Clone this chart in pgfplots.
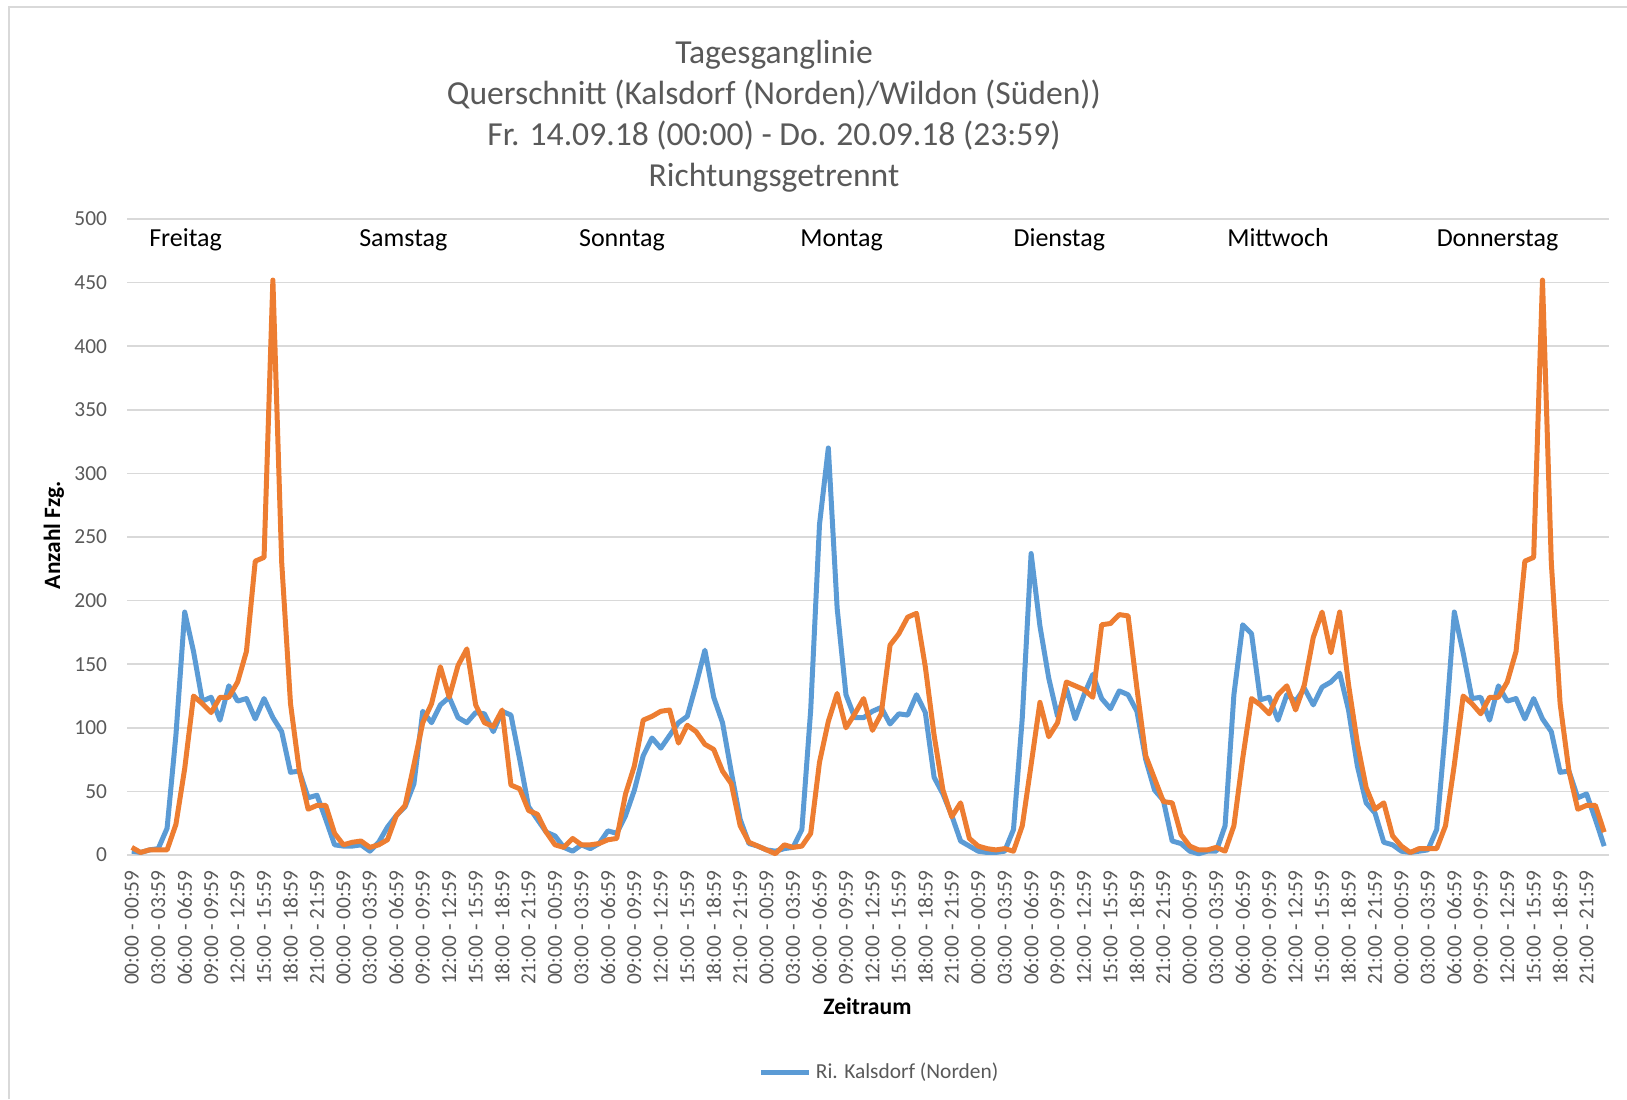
\documentclass[border=0pt]{standalone}
\usepackage{fontspec}
\setmainfont{Carlito}
\usepackage{pgfplots}
\pgfplotsset{compat=1.18}
\usepackage{pgfplotstable}
\definecolor{cblue}{HTML}{5B9BD5}
\definecolor{corange}{HTML}{ED7D31}
\definecolor{cgrid}{HTML}{D9D9D9}
\definecolor{ctext}{HTML}{595959}
\pgfplotstableread{
h b o
0 3 6
1 2 2
2 4 4
3 5 4
4 21 4
5 94 24
6 191 68
7 160 125
8 121 119
9 124 112
10 106 124
11 133 124
12 121 136
13 123 160
14 107 231
15 123 234
16 108 452
17 97 230
18 65 119
19 66 66
20 45 36
21 47 39
22 28 39
23 8 17
24 7 8
25 7 10
26 8 11
27 3 6
28 10 8
29 22 12
30 31 31
31 38 39
32 56 71
33 113 104
34 104 119
35 118 148
36 124 124
37 108 149
38 104 162
39 112 118
40 111 104
41 97 101
42 113 114
43 110 55
44 75 52
45 38 35
46 28 32
47 18 18
48 15 8
49 6 6
50 3 13
51 8 8
52 5 8
53 9 9
54 19 12
55 17 13
56 31 48
57 51 70
58 78 106
59 92 109
60 84 113
61 94 114
62 104 88
63 109 102
64 134 97
65 161 87
66 124 83
67 104 66
68 65 56
69 28 23
70 9 10
71 7 7
72 4 4
73 3 1
74 5 8
75 6 6
76 20 7
77 114 17
78 260 73
79 320 105
80 194 127
81 126 100
82 108 111
83 108 123
84 113 98
85 116 111
86 103 165
87 111 174
88 110 187
89 126 190
90 112 148
91 61 94
92 48 51
93 31 30
94 11 41
95 7 13
96 3 7
97 2 5
98 2 4
99 3 5
100 20 3
101 108 23
102 237 71
103 180 120
104 139 93
105 109 104
106 131 136
107 107 133
108 126 130
109 142 124
110 123 181
111 115 182
112 129 189
113 126 188
114 113 131
115 75 78
116 51 60
117 43 42
118 11 41
119 9 16
120 3 7
121 1 4
122 3 4
123 3 6
124 23 3
125 126 23
126 181 76
127 174 123
128 122 118
129 124 111
130 106 126
131 126 133
132 121 114
133 131 134
134 118 171
135 132 191
136 136 159
137 143 191
138 114 134
139 70 88
140 41 53
141 33 36
142 10 41
143 8 15
144 3 7
145 2 2
146 3 5
147 4 5
148 20 5
149 99 23
150 191 71
151 159 125
152 123 119
153 124 111
154 106 124
155 133 124
156 121 136
157 123 160
158 107 231
159 123 234
160 107 452
161 97 230
162 65 119
163 66 66
164 45 36
165 48 39
166 28 39
167 7 18
}\data
\begin{document}
\begin{tikzpicture}
\path[use as bounding box] (0,0) rectangle (813.5pt,549.5pt);
\draw[cgrid, line width=0.75pt] (4.5pt,0) -- (4.5pt,546pt) -- (813.5pt,546pt);
\begin{axis}[
  at={(63.7pt,122pt)}, anchor=south west,
  scale only axis, width=740.6pt, height=318pt,
  xmin=-0.5, xmax=167.5, ymin=0, ymax=500,
  axis line style={draw=none},
  major tick length=0pt,
  ytick={0,50,...,500},
  ymajorgrids, grid style={cgrid, line width=0.75pt},
  xtick={0,3,...,165},
  xticklabels={00:00 - 00:59,03:00 - 03:59,06:00 - 06:59,09:00 - 09:59,12:00 - 12:59,15:00 - 15:59,18:00 - 18:59,21:00 - 21:59,
    00:00 - 00:59,03:00 - 03:59,06:00 - 06:59,09:00 - 09:59,12:00 - 12:59,15:00 - 15:59,18:00 - 18:59,21:00 - 21:59,
    00:00 - 00:59,03:00 - 03:59,06:00 - 06:59,09:00 - 09:59,12:00 - 12:59,15:00 - 15:59,18:00 - 18:59,21:00 - 21:59,
    00:00 - 00:59,03:00 - 03:59,06:00 - 06:59,09:00 - 09:59,12:00 - 12:59,15:00 - 15:59,18:00 - 18:59,21:00 - 21:59,
    00:00 - 00:59,03:00 - 03:59,06:00 - 06:59,09:00 - 09:59,12:00 - 12:59,15:00 - 15:59,18:00 - 18:59,21:00 - 21:59,
    00:00 - 00:59,03:00 - 03:59,06:00 - 06:59,09:00 - 09:59,12:00 - 12:59,15:00 - 15:59,18:00 - 18:59,21:00 - 21:59,
    00:00 - 00:59,03:00 - 03:59,06:00 - 06:59,09:00 - 09:59,12:00 - 12:59,15:00 - 15:59,18:00 - 18:59,21:00 - 21:59},
  xticklabel style={rotate=90, anchor=east, inner sep=0pt, font=\fontsize{10.7}{12}\selectfont, text=ctext},
  xticklabel shift=7.5pt,
  yticklabel style={anchor=east, inner sep=0pt, font=\fontsize{10.7}{12}\selectfont, text=ctext},
  yticklabel shift=10pt,
  /pgf/number format/assume math mode=true,
  clip=false,
  legend style={at={(0.4261,-0.3412)}, anchor=west, draw=none, fill=none, inner sep=0pt,
    font=\fontsize{10.7}{12}\selectfont, text=ctext},
  legend cell align=left,
  legend image code/.code={\draw[#1] (0pt,0pt) -- (24pt,0pt);},
]
\addplot[cblue, line width=2.5pt, line join=round, mark=none] table[x=h, y=b] {\data};
\addlegendentry{Ri. Kalsdorf (Norden)}
\addplot[corange, line width=2.5pt, line join=round, mark=none, forget plot] table[x=h, y=o] {\data};
\node[anchor=base, font=\fontsize{13}{15}\selectfont] at (axis cs:6.1,478) {Freitag};
\node[anchor=base, font=\fontsize{13}{15}\selectfont] at (axis cs:30.8,478) {Samstag};
\node[anchor=base, font=\fontsize{13}{15}\selectfont] at (axis cs:55.6,478) {Sonntag};
\node[anchor=base, font=\fontsize{13}{15}\selectfont] at (axis cs:80.5,478) {Montag};
\node[anchor=base, font=\fontsize{13}{15}\selectfont] at (axis cs:105.2,478) {Dienstag};
\node[anchor=base, font=\fontsize{13}{15}\selectfont] at (axis cs:130.0,478) {Mittwoch};
\node[anchor=base, font=\fontsize{13}{15}\selectfont] at (axis cs:154.9,478) {Donnerstag};
\end{axis}
\node[anchor=base, text=ctext, font=\fontsize{16.8}{20}\selectfont] at (387pt,517.9pt) {Tagesganglinie};
\node[anchor=base, text=ctext, font=\fontsize{16.8}{20}\selectfont] at (387pt,497.4pt) {Querschnitt (Kalsdorf (Norden)/Wildon (Süden))};
\node[anchor=base, text=ctext, font=\fontsize{16.8}{20}\selectfont] at (387pt,476.9pt) {Fr. 14.09.18 (00:00) - Do. 20.09.18 (23:59)};
\node[anchor=base, text=ctext, font=\fontsize{16.8}{20}\selectfont] at (387pt,456.4pt) {Richtungsgetrennt};
\node[rotate=90, font=\bfseries\fontsize{11.7}{14}\selectfont] at (27pt,282pt) {Anzahl Fzg.};
\node[font=\bfseries\fontsize{11.8}{14}\selectfont] at (433.7pt,46.3pt) {Zeitraum};
\end{tikzpicture}
\end{document}
